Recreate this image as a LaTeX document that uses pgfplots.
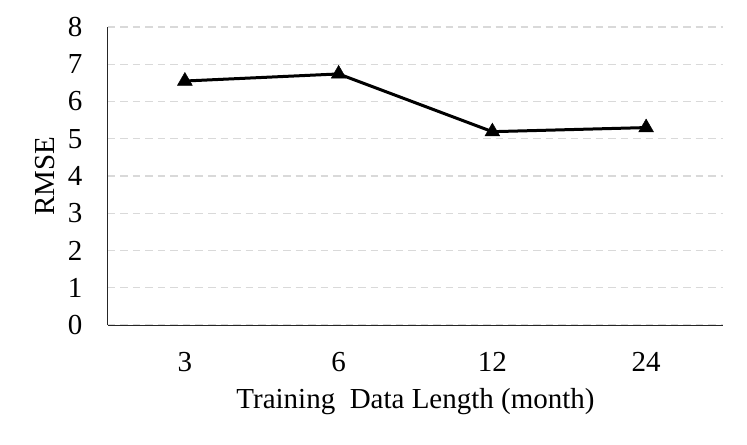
\documentclass[border=0pt]{standalone}
\usepackage{fontspec}
\setmainfont{Liberation Serif}
\usepackage{pgfplots}
\pgfplotsset{compat=1.18}
\begin{document}
\begin{tikzpicture}
\useasboundingbox (-108bp,-120bp) rectangle (639bp,325bp);
\begin{axis}[
  at={(0,0)}, anchor=south west,
  scale only axis,
  width=615bp, height=298bp,
  xmin=-0.5, xmax=3.5,
  ymin=0, ymax=8,
  ytick={0,1,2,3,4,5,6,7,8},
  xtick={0,1,2,3},
  xticklabels={3,6,12,24},
  axis x line=bottom, axis y line=left,
  axis line style={-, line width=1bp, color=black!85},
  major tick length=0pt,
  ymajorgrids,
  grid style={dash pattern=on 7.5bp off 5bp, line width=1.2bp, color=black!15},
  /pgf/number format/assume math mode=true,
  tick label style={font=\fontsize{29bp}{33bp}\selectfont},
  yticklabel style={anchor=east, xshift=-22bp},
  xticklabel style={anchor=center, yshift=-37bp},
  xlabel={Training\hspace{0.25em} Data Length (month)},
  ylabel={RMSE},
  xlabel style={font=\fontsize{29bp}{33bp}\selectfont, at={(axis description cs:0.5,0)}, anchor=center, yshift=-77bp},
  ylabel style={font=\fontsize{29bp}{33bp}\selectfont, at={(axis description cs:0,0.5)}, anchor=center, rotate=0, yshift=63bp},
  clip=false,
]
\addplot[black, line width=3bp, mark=triangle*, mark size=8.5bp, mark options={solid, fill=black, line width=0.5bp}]
coordinates {(0,6.55) (1,6.74) (2,5.19) (3,5.30)};
\end{axis}
\end{tikzpicture}
\end{document}
